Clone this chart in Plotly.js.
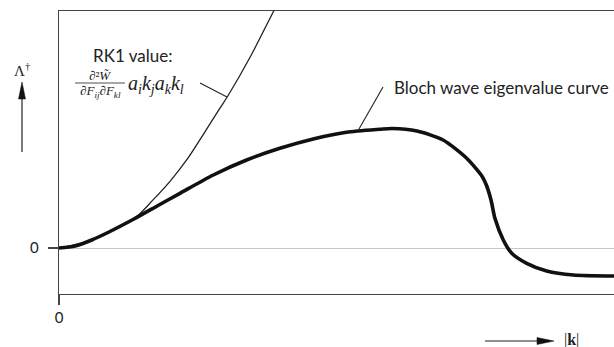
<!DOCTYPE html>
<html>
<head>
<meta charset="utf-8">
<script src="https://cdn.plot.ly/plotly-3.0.1.min.js"></script>
<style>html,body{margin:0;padding:0;background:#fff;}#chart{width:614px;height:347px;}</style>
</head>
<body>
<div id="chart"></div>
<script>
// |k| (normalised) and eigenvalue Λ†
var kBloch = [0, 0.029, 0.059, 0.090, 0.135, 0.180, 0.218, 0.278, 0.338, 0.398, 0.458, 0.518, 0.578, 0.600, 0.645, 0.692, 0.7346, 0.7627, 0.770, 0.7784, 0.7856, 0.8005, 0.8157, 0.8427, 0.8787, 0.9267, 1.0];
var vBloch = [0, 0.043, 0.174, 0.348, 0.630, 0.935, 1.189, 1.587, 1.913, 2.167, 2.370, 2.515, 2.580, 2.598, 2.543, 2.348, 1.950, 1.550, 1.370, 1.043, 0.640, 0.174, -0.115, -0.333, -0.500, -0.587, -0.609];
var kRK1 = [0, 0.059, 0.090, 0.137, 0.169, 0.200, 0.231, 0.259, 0.290, 0.305, 0.344, 0.386, 0.40];
var vRK1 = [0, 0.174, 0.348, 0.652, 1.04, 1.45, 1.93, 2.45, 3.04, 3.32, 4.14, 5.13, 5.45];
var xTickVals = [0], xTickText = ['0'];
var yTickVals = [0], yTickText = ['0'];

var L = 59, R = 0, T = 11, B = 53, W = 614, H = 347;
var pw = W - L - R, ph = H - T - B;
function px(x) { return (x - L) / pw; }
function py(y) { return (H - B - y) / ph; }

var SANS = 'Lato, "Open Sans", sans-serif';
var SERIF = '"Liberation Serif", "DejaVu Serif", serif';
var axisCol = '#444';

var traces = [
  {x: kRK1, y: vRK1, mode: 'lines', line: {color: '#222', width: 1.3, shape: 'spline', smoothing: 0.8}, hoverinfo: 'skip'},
  {x: kBloch, y: vBloch, mode: 'lines', line: {color: '#111', width: 3.6, shape: 'spline', smoothing: 0.7}, hoverinfo: 'skip'}
];

function seg(x0, y0, x1, y1, w, c) {
  return {type: 'line', xref: 'paper', yref: 'paper', x0: px(x0), y0: py(y0), x1: px(x1), y1: py(y1), line: {color: c || '#222', width: w || 1}};
}
function tri(pts) {
  var d = 'M' + pts.map(function(p){ return px(p[0]) + ',' + py(p[1]); }).join(' L') + ' Z';
  return {type: 'path', xref: 'paper', yref: 'paper', path: d, fillcolor: '#111', line: {color: '#111', width: 0.5}};
}

var shapes = [
  // pointer lines
  seg(200, 83, 227, 97, 1.1),
  seg(383, 87, 359, 129, 1.1),
  // fraction bar
  seg(75, 83, 125, 83, 0.8),
  // y arrow
  seg(22, 152, 22, 96, 1.2),
  tri([[18.5, 99], [22, 82], [25.5, 99]]),
  // x arrow
  seg(485, 341, 540, 341, 1.2),
  tri([[537, 337.5], [554, 341], [537, 344.5]])
];

function ann(x, y, text, opt) {
  var a = {xref: 'paper', yref: 'paper', x: px(x), y: py(y), text: text, showarrow: false,
           xanchor: 'left', yanchor: 'middle', font: {family: SANS, size: 17, color: '#222'}};
  for (var k in opt) a[k] = opt[k];
  return a;
}

var annotations = [
  ann(392, 87, 'Bloch wave eigenvalue curve'),
  ann(91, 55, 'RK1 value:'),
  ann(100, 75, '∂²<i>W̃</i>', {xanchor: 'center', font: {family: SERIF, size: 13, color: '#222'}}),
  ann(100, 91, '∂<i>F<sub>ij</sub></i>∂<i>F<sub>kl</sub></i>', {xanchor: 'center', font: {family: SERIF, size: 13, color: '#222'}}),
  ann(126, 85, '<i>a<sub>i</sub>k<sub>j</sub>a<sub>k</sub>k<sub>l</sub></i>', {font: {family: SERIF, size: 20, color: '#222'}}),
  ann(22, 70, 'Λ<sup>†</sup>', {xanchor: 'center', font: {family: SERIF, size: 15, color: '#222'}}),
  ann(562, 340, '|<b>k</b>|', {font: {family: SERIF, size: 16, color: '#222'}})
];

var layout = {
  width: W, height: H,
  margin: {l: L, r: R, t: T, b: B, pad: 0},
  paper_bgcolor: '#fff', plot_bgcolor: '#fff',
  showlegend: false,
  font: {family: SANS, size: 15, color: '#222'},
  xaxis: {range: [0, 1], showgrid: false, zeroline: false, showline: true, mirror: true,
          linecolor: axisCol, linewidth: 1.2, ticks: 'outside', ticklen: 10, tickwidth: 1.2, tickcolor: axisCol,
          tickvals: xTickVals, ticktext: xTickText, tickfont: {family: SANS, size: 15, color: '#222'}, fixedrange: true},
  yaxis: {range: [-1, 5.152], showgrid: false, zeroline: true, zerolinecolor: '#c8c8c8', zerolinewidth: 1,
          showline: true, linecolor: axisCol, linewidth: 1.2, ticks: 'outside', ticklen: 10, tickwidth: 1.2, tickcolor: axisCol,
          ticklabelstandoff: 6,
          tickvals: yTickVals, ticktext: yTickText, tickfont: {family: SANS, size: 15, color: '#222'}, fixedrange: true},
  shapes: shapes,
  annotations: annotations
};

Plotly.newPlot('chart', traces, layout, {staticPlot: true, displayModeBar: false});
</script>
</body>
</html>
